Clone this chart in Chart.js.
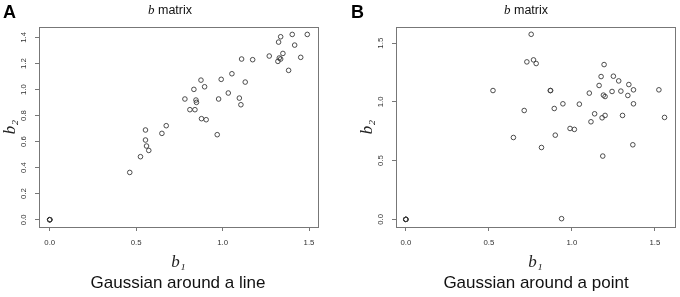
<!DOCTYPE html>
<html>
<head>
<meta charset="utf-8">
<script src="https://cdn.jsdelivr.net/npm/chart.js@4/dist/chart.umd.min.js"></script>
<style>
  html, body { margin: 0; padding: 0; background: #fff; }
  body { width: 680px; height: 297px; position: relative; overflow: hidden; font-family: 'Liberation Sans', Arial, sans-serif; }
  canvas { position: absolute; top: 0; }
  .lbl { position: absolute; white-space: nowrap; color: #000; }
  .panel { font-weight: bold; font-size: 18px; top: 2px; }
  .ttl { font-size: 12.5px; top: 2px; transform: translateX(-50%); color: #111; }
  .ttl i { font-family: 'Liberation Serif', serif; font-size: 13px; }
  .cap { font-size: 17px; top: 273px; transform: translateX(-50%); color: #111; }
</style>
</head>
<body>
<canvas id="c1" width="340" height="297" style="left:0"></canvas>
<canvas id="c2" width="340" height="297" style="left:340px"></canvas>
<div class="lbl panel" style="left:3px">A</div>
<div class="lbl panel" style="left:351px">B</div>
<div class="lbl ttl" style="left:170px"><i>b</i> matrix</div>
<div class="lbl ttl" style="left:526px"><i>b</i> matrix</div>
<div class="lbl cap" style="left:178px">Gaussian around a line</div>
<div class="lbl cap" style="left:536px">Gaussian around a point</div>
<script>
// ---- data: panel A (Gaussian around a line) ----
const lineB1 = [0, 0, 0, 0, 0.463, 0.525, 0.554, 0.554, 0.560, 0.573, 0.649, 0.674, 0.782, 0.811, 0.840, 0.834, 0.846, 0.849, 0.875, 0.896, 0.878, 0.905, 0.969, 0.977, 0.992, 1.033, 1.054, 1.097, 1.106, 1.110, 1.131, 1.174, 1.270, 1.320, 1.324, 1.328, 1.336, 1.336, 1.349, 1.382, 1.403, 1.417, 1.452, 1.490];
const lineB2 = [0, 0, 0, 0, 0.363, 0.484, 0.689, 0.612, 0.566, 0.532, 0.663, 0.722, 0.927, 0.845, 0.845, 1.001, 0.919, 0.901, 1.072, 1.021, 0.776, 0.768, 0.653, 0.927, 1.078, 0.973, 1.121, 0.934, 0.883, 1.234, 1.057, 1.229, 1.257, 1.216, 1.364, 1.242, 1.234, 1.405, 1.277, 1.147, 1.423, 1.341, 1.247, 1.423];
// ---- data: panel B (Gaussian around a point) ----
const pointB1 = [0, 0, 0, 0, 0.525, 0.648, 0.713, 0.729, 0.755, 0.769, 0.785, 0.817, 0.870, 0.872, 0.894, 0.900, 0.938, 0.946, 0.989, 1.015, 1.045, 1.105, 1.115, 1.137, 1.164, 1.176, 1.182, 1.186, 1.190, 1.194, 1.200, 1.200, 1.242, 1.250, 1.282, 1.295, 1.305, 1.337, 1.343, 1.367, 1.371, 1.371, 1.524, 1.558];
const pointB2 = [0, 0, 0, 0, 1.097, 0.697, 0.927, 1.341, 1.576, 1.358, 1.327, 0.612, 1.097, 1.097, 0.944, 0.717, 0.006, 0.984, 0.774, 0.766, 0.981, 1.075, 0.831, 0.899, 1.140, 1.216, 0.865, 0.539, 1.058, 1.318, 0.885, 1.046, 1.089, 1.219, 1.179, 1.092, 0.885, 1.055, 1.148, 0.635, 1.103, 0.984, 1.103, 0.868];
// ---- tick values ----
const lineXTicks = [0, 0.5, 1.0, 1.5];
const lineYTicks = [0, 0.2, 0.4, 0.6, 0.8, 1.0, 1.2, 1.4];
const pointXTicks = [0, 0.5, 1.0, 1.5];
const pointYTicks = [0, 0.5, 1.0, 1.5];

const boxPlugin = {
  id: 'box',
  afterDraw(chart) {
    const a = chart.chartArea, ctx = chart.ctx;
    ctx.save();
    ctx.strokeStyle = '#777';
    ctx.lineWidth = 1;
    ctx.strokeRect(Math.round(a.left) + 0.5, Math.round(a.top) + 0.5, Math.round(a.right - a.left), Math.round(a.bottom - a.top));
    ctx.restore();
  }
};

function makeChart(id, xs, ys, xTicks, yTicks, xr, yr, yWidth, rightPad, yTitlePad) {
  const pts = xs.map((x, i) => ({ x: x, y: ys[i] }));
  const tickFont = { family: "'Liberation Sans', Arial, sans-serif", size: 7.8 };
  const titleFont = { family: "'Liberation Serif', 'DejaVu Serif', serif", size: 17, style: 'italic' };
  return new Chart(document.getElementById(id), {
    type: 'scatter',
    data: { datasets: [{
      data: pts,
      pointStyle: 'circle',
      pointRadius: 2.3,
      pointHoverRadius: 2.3,
      borderWidth: 0.9,
      borderColor: '#3a3a3a',
      backgroundColor: 'rgba(0,0,0,0)'
    }] },
    options: {
      responsive: false,
      animation: false,
      devicePixelRatio: 1,
      layout: { padding: { left: 0, right: rightPad, top: 27, bottom: 25 } },
      plugins: { legend: { display: false }, tooltip: { enabled: false } },
      scales: {
        x: {
          type: 'linear', min: xr[0], max: xr[1],
          afterBuildTicks: s => { s.ticks = xTicks.map(v => ({ value: v })); },
          afterFit: s => { s.height = 45; },
          grid: { drawOnChartArea: false, drawTicks: true, tickLength: 4, color: '#777', lineWidth: 1 },
          border: { display: true, color: '#777', width: 1 },
          ticks: { autoSkip: false, maxRotation: 0, padding: 7.5, color: '#333', font: tickFont, callback: v => Number(v).toFixed(1) },
          title: { display: true, text: 'b\u2081', color: '#222', font: titleFont, padding: { top: 0, bottom: -0.5 } }
        },
        y: {
          type: 'linear', min: yr[0], max: yr[1],
          afterBuildTicks: s => { s.ticks = yTicks.map(v => ({ value: v })); },
          afterFit: s => { s.width = yWidth; },
          grid: { drawOnChartArea: false, drawTicks: true, tickLength: 4, color: '#777', lineWidth: 1 },
          border: { display: true, color: '#777', width: 1 },
          ticks: { autoSkip: false, minRotation: 90, maxRotation: 90, crossAlign: 'center', padding: 5.5, color: '#333', font: tickFont, callback: v => Number(v).toFixed(1) },
          title: { display: true, text: 'b\u2082', color: '#222', font: titleFont, padding: { top: yTitlePad, bottom: 0 } }
        }
      }
    },
    plugins: [boxPlugin]
  });
}

makeChart('c1', lineB1, lineB2, lineXTicks, lineYTicks, [-0.062, 1.552], [-0.056, 1.48], 39, 22, 0.5);
makeChart('c2', pointB1, pointB2, pointXTicks, pointYTicks, [-0.059, 1.621], [-0.065, 1.638], 56, 5, 17);
</script>
</body>
</html>
